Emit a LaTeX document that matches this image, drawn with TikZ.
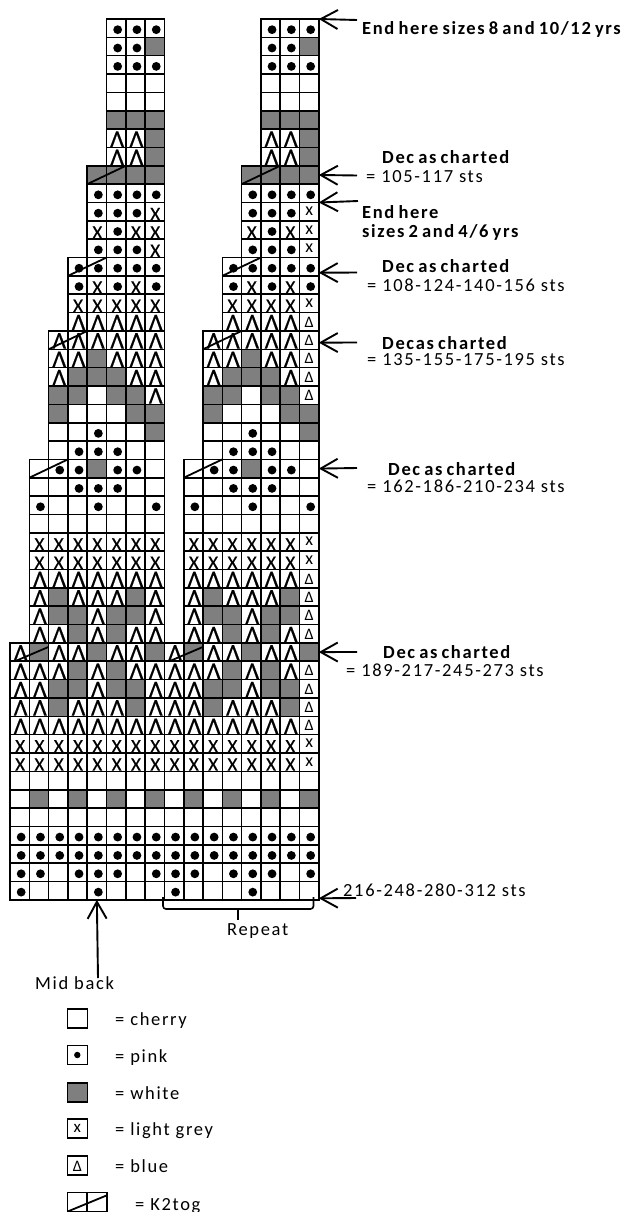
\documentclass[tikz,border=0pt]{standalone}
\usepackage{fontspec}
\setmainfont{Carlito}
\newfontfamily\labfont[LetterSpace=9]{Carlito}
\newfontfamily\blabfont[LetterSpace=9,WordSpace=0.7]{Carlito Bold}
\newfontfamily\symfont[FakeBold=0.5]{Carlito}
\usetikzlibrary{arrows.meta}
\definecolor{chartgray}{HTML}{7F7F7F}
\newcommand{\gx}[1]{(10+(#1-0.5)*19.3)}
\newcommand{\gy}[1]{(19+(#1-0.5)*18.35)}
\newcommand{\symd}{}
\newcommand{\symo}{}
\newcommand{\symg}{}
\newcommand{\symX}{\hspace*{1pt}\raisebox{-8.5pt}[0pt][0pt]{\fontsize{19}{19}\symfont X}}
\newcommand{\symx}{\raisebox{-4pt}[0pt][0pt]{\fontsize{18}{18}\selectfont x}}
\newcommand{\symA}{\hspace*{2pt}\raisebox{-8.5pt}[0pt][0pt]{\fontsize{24}{24}\symfont Λ}}
\newcommand{\symT}{\raisebox{-5.5pt}[0pt][0pt]{\fontsize{16}{16}\selectfont Δ}}
\newcommand{\mkcell}[3]{\node[cell#3] (c#1-#2) at ({\gx{#2}},{\gy{#1}}) {\csname sym#3\endcsname};}
\newcommand{\rowcells}[3]{\foreach \tp [count=\cn from #2] in {#3} {\edef\tmpc{\noexpand\mkcell{#1}{\cn}{\tp}}\tmpc}}
\newcommand{\both}[4]{\rowcells{#1}{#2}{#3}\pgfmathtruncatemacro{\second}{#2+8}\rowcells{#1}{\second}{#4}}
\newcommand{\same}[3]{\both{#1}{#2}{#3}{#3}}
\tikzset{
  cell/.style={draw=black,line width=1.6pt,minimum width=19.3pt,minimum height=18.35pt,inner sep=0pt,outer sep=0pt},
  cello/.style={cell},
  cellX/.style={cell},
  cellx/.style={cell},
  cellA/.style={cell},
  cellT/.style={cell},
  cellg/.style={cell,fill=chartgray},
  celld/.style={cell,path picture={\fill ([shift={(1.5,1.5)}]path picture bounding box.center) circle (4.4);}},
  slant/.style={line width=1.8pt,draw=black},
  pointer/.style={line width=1.9pt,draw=black,-{Straight Barb[length=17pt,width=19pt,line width=1.9pt]}},
  lab/.style={anchor=base west,inner sep=0pt,font=\fontsize{18.5}{20}\labfont},
  blab/.style={lab,font=\fontsize{18.5}{20}\blabfont},
}
\begin{document}
\begin{tikzpicture}[x=1pt,y=-1pt]
\useasboundingbox (0,0) rectangle (629,1212);
\fill[white] (0,0) rectangle (629,1212);
% chart
\same{1}{6}{d,d,d}
\same{2}{6}{d,d,g}
\same{3}{6}{d,d,d}
\same{4}{6}{o,o,o}
\same{5}{6}{o,o,o}
\same{6}{6}{g,g,g}
\same{7}{6}{A,A,g}
\same{8}{6}{A,A,g}
\same{9}{5}{g,g,g,g}
\same{10}{5}{d,d,d,d}
\both{11}{5}{d,d,d,X}{d,d,d,x}
\both{12}{5}{X,d,X,X}{X,d,X,x}
\both{13}{5}{d,d,d,X}{d,d,d,x}
\same{14}{4}{d,d,d,d,d}
\same{15}{4}{d,X,d,X,d}
\both{16}{4}{X,X,X,X,X}{X,X,X,X,x}
\both{17}{4}{A,A,A,A,A}{A,A,A,A,T}
\both{18}{3}{A,A,A,A,A,A}{A,A,A,A,A,T}
\both{19}{3}{A,A,g,A,A,A}{A,A,g,A,A,T}
\both{20}{3}{A,g,g,g,A,A}{A,g,g,g,A,T}
\both{21}{3}{g,g,o,g,g,A}{g,g,o,g,g,T}
\same{22}{3}{g,o,o,o,g,g}
\same{23}{3}{o,o,d,o,o,g}
\same{24}{3}{o,d,d,d,o,o}
\same{25}{2}{o,d,d,g,d,d,o}
\same{26}{2}{o,o,d,d,d,o,o}
\same{27}{2}{d,o,o,d,o,o,d}
\same{28}{2}{o,o,o,o,o,o,o}
\both{29}{2}{X,X,X,X,X,X,X}{X,X,X,X,X,X,x}
\both{30}{2}{X,X,X,X,X,X,X}{X,X,X,X,X,X,x}
\both{31}{2}{A,A,A,A,A,A,A}{A,A,A,A,A,A,T}
\both{32}{2}{A,g,A,A,A,g,A}{A,g,A,A,A,g,T}
\both{33}{2}{A,g,g,A,g,g,A}{A,g,g,A,g,g,T}
\both{34}{2}{A,A,g,A,g,A,A}{A,A,g,A,g,A,T}
\same{35}{1}{A,g,A,A,g,A,A,g}
\both{36}{1}{A,A,A,g,A,g,A,A}{A,A,A,g,A,g,A,T}
\both{37}{1}{A,A,g,g,A,g,g,A}{A,A,g,g,A,g,g,T}
\both{38}{1}{A,A,g,A,A,A,g,A}{A,A,g,A,A,A,g,T}
\both{39}{1}{A,A,A,A,A,A,A,A}{A,A,A,A,A,A,A,T}
\both{40}{1}{X,X,X,X,X,X,X,X}{X,X,X,X,X,X,X,x}
\both{41}{1}{X,X,X,X,X,X,X,X}{X,X,X,X,X,X,X,x}
\same{42}{1}{o,o,o,o,o,o,o,o}
\same{43}{1}{o,g,o,g,o,g,o,g}
\same{44}{1}{o,o,o,o,o,o,o,o}
\same{45}{1}{d,d,d,d,d,d,d,d}
\same{46}{1}{d,d,d,d,d,d,d,d}
\same{47}{1}{d,d,o,d,d,d,o,d}
\same{48}{1}{d,o,o,o,d,o,o,o}
% k2tog lines
\foreach \r/\a/\b in {9/5/6,9/13/14,14/4/5,14/12/13,18/3/4,18/11/12,25/2/3,25/10/11}
  \draw[slant] (c\r-\a.south west) -- (c\r-\b.north east);
\draw[slant] ([xshift=5pt]c35-1.south west) -- ([yshift=-4pt]c35-2.north east);
\draw[slant] ([xshift=5pt]c35-9.south west) -- ([yshift=-4pt]c35-10.north east);
% labels and arrows
\node[blab] (t1) at (362,35) {End here sizes 8 and 10/12 yrs};
\coordinate (a1) at (357,20);
\draw[pointer] (a1) -- (c1-16.north east);
\node[blab] (t2) at (382,163) {Dec as charted};
\node[lab] (t2b) at (366,182) {= 105-117 sts};
\coordinate (a2) at (357,175.5);
\draw[pointer] (a2) -- (c9-16.east);
\node[blab] (t3) at (362,218) {End here};
\node[blab] (t3b) at (362,237) {sizes 2 and 4/6 yrs};
\coordinate (a3) at (358,201);
\draw[pointer] (a3) -- (c10-16.south east);
\node[blab] (t4) at (382,272) {Dec as charted};
\node[lab] (t4b) at (367,291) {= 108-124-140-156 sts};
\coordinate (a4) at (357,272.5);
\draw[pointer] (a4) -- ([yshift=-6pt]c14-16.east);
\node[blab] (t5) at (382,349) {Decas charted};
\node[lab] (t5b) at (367,365) {= 135-155-175-195 sts};
\coordinate (a5) at (357,342.5);
\draw[pointer] (a5) -- ([yshift=-2.5pt]c18-16.east);
\node[blab] (t6) at (388,475) {Dec as charted};
\node[lab] (t6b) at (367,492) {= 162-186-210-234 sts};
\coordinate (a6) at (357,468);
\draw[pointer] (a6) -- (c25-16.east);
\node[blab] (t7) at (383,658) {Dec as charted};
\node[lab] (t7b) at (346,676) {= 189-217-245-273 sts};
\coordinate (a7) at (357,652);
\draw[pointer] (a7) -- (c35-16.east);
\node[lab] (t8) at (343,896) {216-248-280-312 sts};
\coordinate (a8) at (356,898);
\draw[pointer] (a8) -- ([yshift=1.5pt]c48-16.south east);
% repeat bracket
\coordinate (b1) at (163,897);
\coordinate (b2) at (313.5,897);
\coordinate (b3) at (238,909);
\coordinate (b4) at (238,920);
\draw[line width=1.6pt,rounded corners=3pt] (b1) |- (b3) -| (b2);
\draw[line width=1.6pt] (b3) -- (b4);
\node[lab] (rep) at (227,935) {Repeat};
% mid back
\node[lab] (mid) at (35,989) {Mid back};
\coordinate (m1) at (98,978);
\draw[pointer] (m1) -- (c48-5.south);
% legend
\node[cello,minimum width=20pt,minimum height=19.3pt] (l1) at (77.3,1018.4) {};
\node[celld,minimum width=20pt,minimum height=19.3pt,path picture={\fill[white] (path picture bounding box.center) circle (5); \fill ([shift={(0,0)}]path picture bounding box.center) circle (3.2);}] (l2) at (77.3,1055) {};
\node[cellg,minimum width=20pt,minimum height=19.3pt] (l3) at (77.3,1092.4) {};
\node[cellx,minimum width=20pt,minimum height=19.3pt] (l4) at (77.3,1128.5) {\raisebox{-4pt}[0pt][0pt]{\fontsize{17}{17}\selectfont x}};
\node[cellT,minimum width=20pt,minimum height=19.3pt] (l5) at (77.3,1165.5) {\symT};
\node[cello,minimum width=20pt,minimum height=19.3pt] (l6) at (77.3,1202) {};
\node[cello,minimum width=20pt,minimum height=19.3pt] (l7) at (96.8,1202) {};
\draw[slant] (l6.south west) -- ([yshift=-3pt]l7.north east);
\node[lab] (k1) at (115,1025) {= cherry};
\node[lab] (k2) at (115,1062) {= pink};
\node[lab] (k3) at (115,1099) {= white};
\node[lab] (k4) at (115,1135) {= light grey};
\node[lab] (k5) at (115,1172) {= blue};
\node[lab] (k6) at (135,1210) {= K2tog};
\end{tikzpicture}
\end{document}
